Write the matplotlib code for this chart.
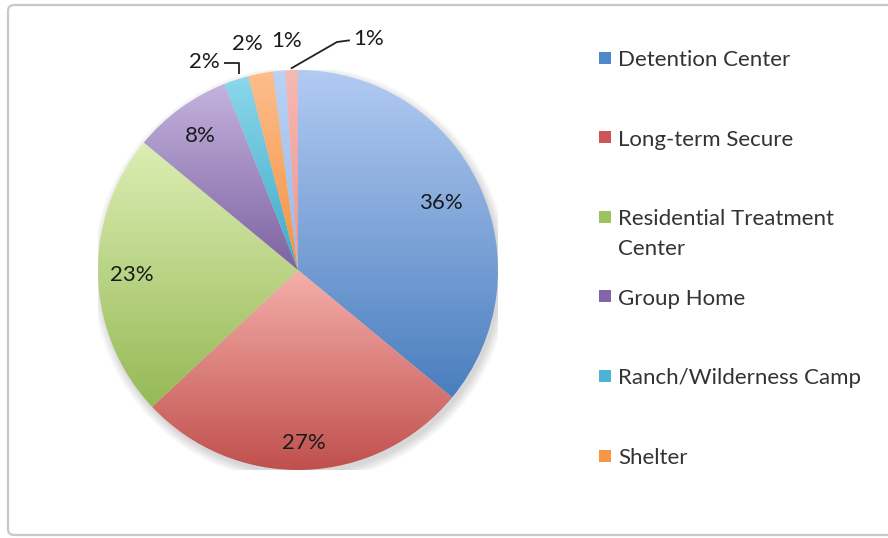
import numpy as np
import matplotlib.pyplot as plt
from matplotlib.colors import LinearSegmentedColormap
from matplotlib.patches import Rectangle, FancyBboxPatch, Circle

plt.rcParams['font.family'] = ['Lato', 'DejaVu Sans']

# placement shares, clockwise from 12 o'clock
categories = ['Detention Center', 'Long-term Secure', 'Residential Treatment\nCenter',
              'Group Home', 'Ranch/Wilderness Camp', 'Shelter', 'Other A', 'Other B']
shares = [36, 27, 23, 8, 2, 2, 1, 1]
n_legend = 6

# (top, bottom) colours of each slice's vertical gradient
grad_top = ['#B2CBF3', '#F5AFAA', '#DCEEB4', '#C3B2DE', '#8CD7EB', '#FCBE8C', '#BAD2F5', '#F5B9B4']
grad_bot = ['#4A7EBE', '#C0504D', '#96B955', '#7D62A0', '#3CAAC8', '#F59141', '#96B9EB', '#EB9691']
swatch = ['#5087C8', '#CD5555', '#9BC35F', '#8264AA', '#4BB4D2', '#F79646']

fig = plt.figure(figsize=(8.88, 5.38), dpi=100)

# outer frame
fig.patches.append(FancyBboxPatch((8, 3), 900, 530, boxstyle='round,pad=0,rounding_size=6',
                                  transform=None, fill=False, edgecolor='#C8C8C8', linewidth=1.6))

ax = fig.add_axes([98 / 888, 68 / 538, 400 / 888, 400 / 538])
ax.axis('off')

# soft drop shadow under the pie
for k in range(8):
    ax.add_patch(Circle((0.012, -0.022), 1.0 + 0.006 * k, facecolor='#000000',
                        alpha=0.018, edgecolor='none', zorder=0))

wedges, _ = ax.pie(shares, startangle=90, counterclock=False, radius=1.0,
                   wedgeprops=dict(linewidth=0))

for w, top, bot in zip(wedges, grad_top, grad_bot):
    ext = w.get_path().get_extents()
    cmap = LinearSegmentedColormap.from_list('slice', [top, bot])
    grad = np.linspace(0, 1, 256).reshape(-1, 1)
    im = ax.imshow(grad, cmap=cmap, extent=[ext.x0, ext.x1, ext.y0, ext.y1],
                   aspect='auto', interpolation='bilinear', zorder=1)
    im.set_clip_path(w)
    w.set_facecolor('none')

ax.set_xlim(-1, 1)
ax.set_ylim(-1, 1)
ax.set_aspect('equal')


def mid_dir(w):
    a = np.deg2rad((w.theta1 + w.theta2) / 2)
    return np.cos(a), np.sin(a)


label_font = dict(fontsize=16, color='#1A1A1A')

# labels inside the large slices
inner_dist = [0.79, 0.865, 0.83, 0.83]
for w, v, d in zip(wedges[:4], shares[:4], inner_dist):
    cx, cy = mid_dir(w)
    ax.text(d * cx, d * cy, f'{v}%', ha='center', va='center', **label_font)

# Ranch/Wilderness Camp: elbow leader to the left
cx, cy = mid_dir(wedges[4])
ex, ey = cx + 0.015, cy + 0.03
ax.plot([ex, ex, ex - 0.075], [ey, ey + 0.055, ey + 0.055], color='#222222', lw=1.3,
        clip_on=False, solid_capstyle='butt')
ax.text(ex - 0.095, ey + 0.06, f'{shares[4]}%', ha='right', va='center', **label_font)

# Shelter and the first 1% slice: plain labels above the pie
for w, v, dx in zip(wedges[5:7], shares[5:7], [-0.035, 0.05]):
    cx, cy = mid_dir(w)
    ax.text(1.16 * cx + dx, 1.16 * cy - 0.01, f'{v}%', ha='center', va='center', **label_font)

# last 1% slice: diagonal leader to the right
cx, cy = mid_dir(wedges[7])
ax.plot([cx * 1.01, 0.195, 0.255], [cy * 1.01, 1.14, 1.148], color='#222222', lw=1.3,
        clip_on=False)
ax.text(0.275, 1.155, f'{shares[7]}%', ha='left', va='center', **label_font)

# legend, drawn by hand so wrapped labels keep their spacing
H = 538
for i, (name, col) in enumerate(zip(categories[:n_legend], swatch)):
    yc = 60 + i * 79.6
    fig.patches.append(Rectangle((599, H - yc - 3.5), 12, 12, transform=None,
                                 facecolor=col, edgecolor='none'))
    for j, line in enumerate(name.split('\n')):
        fig.text(618 / 888, 1 - (yc + 30 * j) / H, line, ha='left', va='center',
                 fontsize=16, color='#333333')

fig.savefig('out.png', dpi=100)
